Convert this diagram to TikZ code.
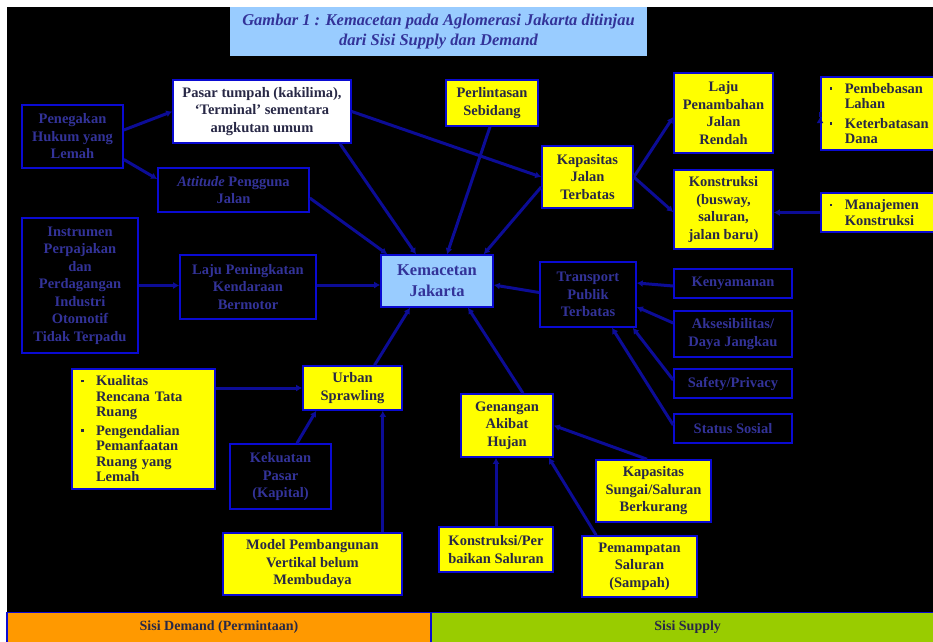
\documentclass[tikz,border=0pt]{standalone}
\usepackage{fontspec}
\setmainfont{Liberation Serif}
\usetikzlibrary{arrows.meta,calc}
\definecolor{bord}{RGB}{10,10,210}
\definecolor{lnc}{RGB}{12,12,150}
\definecolor{dtext}{RGB}{51,51,153}
\definecolor{ytext}{RGB}{40,40,70}
\definecolor{yel}{RGB}{255,255,0}
\definecolor{lblue}{RGB}{153,204,255}
\definecolor{orng}{RGB}{255,153,0}
\definecolor{grn}{RGB}{153,204,0}
\newcommand{\bl}{\makebox[15pt][l]{\rule[3.5pt]{2.6pt}{2.6pt}}}
\newcommand{\ind}{\hspace*{15pt}}
\tikzset{
  box/.style={draw=bord, line width=1.6pt, inner sep=1pt, align=center,
    font=\bfseries\fontsize{14.5}{17.5}\selectfont},
  yb/.style={box, fill=yel, text=ytext},
  db/.style={box, fill=black, text=dtext},
  wb/.style={box, fill=white, text=ytext},
  bulbox/.style={box, fill=yel, text=ytext, align=left, inner xsep=9pt,
    font=\bfseries\fontsize{14.5}{15.5}\selectfont},
  con/.style={draw=lnc, line width=3pt, -{Latex[length=6pt,width=7pt]}},
  bar/.style={draw=bord, line width=1.4pt, inner sep=0pt, text=ytext,
    font=\bfseries\fontsize{14}{17}\selectfont},
}
\begin{document}
\begin{tikzpicture}[x=1pt,y=-1pt]
\useasboundingbox (0,0) rectangle (933,641);
\fill[white] (0,0) rectangle (933,641);
\fill[black] (7,7) rectangle (933,641);

% title
\node[fill=lblue, text=dtext, minimum width=417pt, minimum height=49pt, inner sep=0pt, align=center,
  font=\bfseries\itshape\fontsize{16.5}{20}\selectfont] (title) at (438.5,31.5)
  {Gambar 1 : Kemacetan pada Aglomerasi Jakarta ditinjau\\ dari Sisi Supply dan Demand};

% nodes
\node[wb, minimum width=178pt, minimum height=63pt] (pasar) at (262,111.5)
  {Pasar tumpah (kakilima),\\ `Terminal' sementara\\ angkutan umum};
\node[db, minimum width=101pt, minimum height=63pt] (pen) at (72.5,136.5)
  {Penegakan\\ Hukum yang\\ Lemah};
\node[db, minimum width=151pt, minimum height=44pt] (att) at (233.5,190)
  {\textit{Attitude} Pengguna\\ Jalan};
\node[yb, minimum width=92pt, minimum height=46pt] (perl) at (492,103)
  {Perlintasan\\ Sebidang};
\node[yb, minimum width=91pt, minimum height=62pt] (kapj) at (587.5,177)
  {Kapasitas\\ Jalan\\ Terbatas};
\node[yb, minimum width=99pt, minimum height=80pt] (lajup) at (723.5,113)
  {Laju\\ Penambahan\\ Jalan\\ Rendah};
\node[yb, minimum width=99pt, minimum height=79pt] (kons) at (723.5,209.5)
  {Konstruksi\\ (busway,\\ saluran,\\ jalan baru)};
\node[bulbox, text width=100pt, minimum height=73pt, anchor=west] (pemb) at (820,113.5)
  {\bl Pembebasan\\ \ind Lahan\\[4pt] \bl Keterbatasan\\ \ind Dana};
\node[bulbox, text width=100pt, minimum height=39pt, anchor=west] (mana) at (820,212.5)
  {\bl Manajemen\\ \ind Konstruksi};
\node[box, fill=lblue, text=dtext, minimum width=112pt, minimum height=52pt,
  font=\bfseries\fontsize{16.5}{21}\selectfont] (kem) at (437,281)
  {Kemacetan\\ Jakarta};
\node[db, minimum width=116pt, minimum height=135pt] (inst) at (80,285.5)
  {Instrumen\\ Perpajakan\\ dan\\ Perdagangan\\ Industri\\ Otomotif\\ Tidak Terpadu};
\node[db, minimum width=136pt, minimum height=64pt] (lajuk) at (248,287)
  {Laju Peningkatan\\ Kendaraan\\ Bermotor};
\node[db, minimum width=96pt, minimum height=65pt] (trans) at (588,294.5)
  {Transport\\ Publik\\ Terbatas};
\node[db, minimum width=118pt, minimum height=29pt] (keny) at (733,283.5) {Kenyamanan};
\node[db, minimum width=118pt, minimum height=46pt] (akse) at (733,334)
  {Aksesibilitas/\\ Daya Jangkau};
\node[db, minimum width=118pt, minimum height=29pt] (safe) at (733,383.5) {Safety/Privacy};
\node[db, minimum width=118pt, minimum height=29pt] (stat) at (733,428.5) {Status Sosial};
\node[yb, minimum width=92pt, minimum height=63pt] (gen) at (507,425.5)
  {Genangan\\ Akibat\\ Hujan};
\node[yb, minimum width=115pt, minimum height=62pt] (kaps) at (653.5,491)
  {Kapasitas\\ Sungai/Saluran\\ Berkurang};
\node[yb, minimum width=114pt, minimum height=45pt] (konp) at (496,549.5)
  {Konstruksi/Per\\ baikan Saluran};
\node[yb, minimum width=115pt, minimum height=61pt] (pemp) at (639.5,566.5)
  {Pemampatan\\ Saluran\\ (Sampah)};
\node[bulbox, text width=125pt, minimum height=120pt] (kual) at (143.5,429)
  {\bl Kualitas\\ \ind Rencana Tata\\ \ind Ruang\\[3pt] \bl Pengendalian\\ \ind Pemanfaatan\\ \ind Ruang yang\\ \ind Lemah};
\node[yb, minimum width=99pt, minimum height=44pt] (urb) at (352.5,388)
  {Urban\\ Sprawling};
\node[db, minimum width=101pt, minimum height=65pt] (kek) at (280.5,476.5)
  {Kekuatan\\ Pasar\\ (Kapital)};
\node[yb, minimum width=179pt, minimum height=62pt] (model) at (312.5,564)
  {Model Pembangunan\\ Vertikal belum\\ Membudaya};

% bottom bars
\node[bar, fill=orng, minimum width=424pt, minimum height=30pt] (dem) at (219,627.5)
  {Sisi Demand (Permintaan)};
\node[bar, fill=grn, minimum width=510pt, minimum height=30pt, anchor=west] (sup) at (431,627.5)
  {\hspace*{2pt}Sisi Supply};

% connectors
\draw[con] ($(pen.east)+(0,-6.5)$) -- (pasar.west);
\draw[con] ($(pen.east)+(0,23)$) -- ($(att.west)+(0,-11)$);
\draw[con] ($(pasar.south)+(78,0)$) -- ($(kem.north)+(-21,0)$);
\draw[con] (pasar.east) -- (kapj.west);
\draw[con] ($(att.east)+(0,8)$) -- ($(kem.north west)+(7,0)$);
\draw[con] ($(perl.south)+(-2,0)$) -- ($(kem.north)+(10,0)$);
\draw[con] ($(kapj.west)+(0,10)$) -- ($(kem.north east)+(-10,0)$);
\draw[con] (inst.east) -- (inst.east -| lajuk.west);
\draw[con] ($(lajuk.east)+(0,-2)$) -- ($(kem.west)+(0,4)$);
\draw[con] ($(trans.west)+(0,-2)$) -- ($(kem.east)+(0,4)$);
\draw[con] ($(keny.west)+(0,2.5)$) -- ($(trans.east)+(0,-11.5)$);
\draw[con] ($(akse.west)+(0,-11)$) -- ($(trans.east)+(0,12.5)$);
\draw[con] ($(safe.west)+(0,-3.5)$) -- ($(trans.south east)+(-4,0)$);
\draw[con] ($(stat.west)+(0,-3.5)$) -- ($(trans.south)+(24,0)$);
\draw[con] ($(gen.north)+(16,0)$) -- ($(kem.south)+(31,0)$);
\draw[con] ($(urb.north)+(22,0)$) -- ($(kem.south)+(-27,0)$);
\draw[con] (urb.west -| kual.east) -- (urb.west);
\draw[con] ($(kek.north)+(16.5,0)$) -- ($(urb.south west)+(14,0)$);
\draw[con] ($(model.north east)+(-20,0)$) -- ($(urb.south east)+(-20,0)$);
\draw[con] ($(kaps.north)+(-6.5,0)$) -- (gen.east);
\draw[con] (konp.north) -- (konp.north |- gen.south);
\draw[con] ($(pemp.north west)+(15,0)$) -- ($(gen.south east)+(-5,0)$);
\draw[con] (kapj.east) -- ($(lajup.west)+(0,4)$);
\draw[con] (kapj.east) -- ($(kons.west)+(0,2.5)$);
\draw[con] ($(pemb.west)+(0,3.5)$) -- ($(pemb.west)+(0,3.5)$ -| lajup.east);
\draw[con] (mana.west) -- (mana.west -| kons.east);
\end{tikzpicture}
\end{document}
